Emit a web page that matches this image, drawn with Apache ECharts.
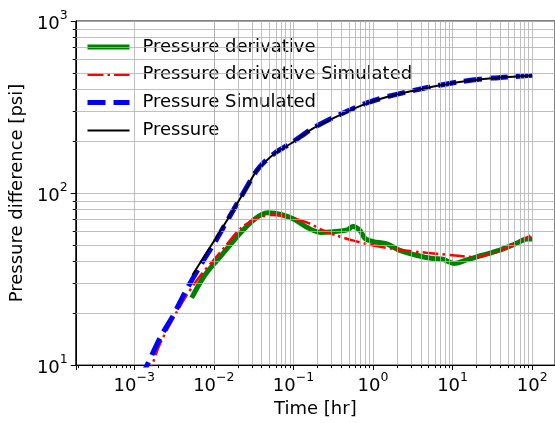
<!DOCTYPE html>
<html>
<head>
<meta charset="utf-8">
<script src="https://cdn.jsdelivr.net/npm/echarts@6/dist/echarts.min.js"></script>
<style>
  html, body { margin: 0; padding: 0; background: #fff; }
  #chart { width: 555px; height: 423px; }
</style>
</head>
<body>
<div id="chart"></div>
<script>
// measured pressure
const pTime = [0.00538, 0.0125, 0.0158, 0.0268, 0.0342, 0.0434, 0.0607, 0.0933, 0.181, 0.389, 0.837, 1.80, 4.68, 12.2, 31.6, 100]
const pValue = [33.4, 61.7, 73.5, 111, 134, 151, 172, 194, 239, 285, 332, 370, 408, 442, 465, 482]

// simulated pressure
const psTime = [0.0012, 0.00145, 0.00213, 0.00312, 0.00435, 0.00703, 0.0103, 0.0221, 0.0342, 0.0434, 0.0607, 0.0933, 0.181, 0.389, 0.837, 1.80, 4.68, 12.2, 31.6, 100]
const psValue = [8.4, 10.0, 14.5, 19.6, 26.5, 39, 51.8, 95.5, 134, 152, 173, 195, 240, 287, 334, 371, 409, 443, 466, 483]

// measured derivative
const dTime = [0.00527, 0.00773, 0.0125, 0.0201, 0.0324, 0.0475, 0.0697, 0.102, 0.150, 0.219, 0.321, 0.472, 0.560, 0.690, 0.798, 1.01, 1.49, 2.17, 3.51, 5.65, 7.53, 10.5, 14.7, 23.7, 38.3, 61.8, 86.1, 100]
const dValue = [24.6, 33.4, 43.5, 56.5, 70.4, 76.7, 75.1, 70.4, 63.0, 59.0, 59.6, 61.1, 63.9, 60.4, 54.3, 52.2, 50.7, 46.4, 43.5, 41.6, 41.2, 39.0, 40.7, 43.5, 46.4, 50.7, 54.1, 54.1]

// simulated derivative
const dsTime = [0.0014, 0.00168, 0.00203, 0.00297, 0.00435, 0.0064, 0.0103, 0.0137, 0.0221, 0.0357, 0.0523, 0.0766, 0.150, 0.241, 0.354, 0.570, 1.01, 2.17, 4.68, 10.0, 17.8, 31.6, 56.0, 95]
const dsValue = [8.2, 10, 12.8, 18.1, 24.6, 32.0, 41.6, 48.5, 62.8, 71.8, 74.5, 73.5, 67.3, 60.4, 56.5, 52.9, 49.6, 46.8, 45.0, 43.5, 42.5, 44.5, 49.6, 56.5]

const xMin = Math.pow(10, -3.735)
const xMax = Math.pow(10, 2.287)
const yMin = 10
const yMax = 1000

const font = 'DejaVu Sans'
const gridColor = '#b0b0b0'

const zip = (xs, ys) => xs.map((x, i) => [x, ys[i]])

const powLabel = (v) => {
  const l = Math.log10(v)
  const e = Math.round(l)
  if (Math.abs(l - e) > 1e-6) return ''
  return '{b|10}{s|' + (e < 0 ? '\u2212' + (-e) : e) + '}'
}
const labelRich = {
  b: { fontSize: 18, fontFamily: font, color: '#000', lineHeight: 24, verticalAlign: 'bottom' },
  s: { fontSize: 12.5, fontFamily: font, color: '#000', lineHeight: 24, verticalAlign: 'top' },
}

// minor grid positions (2..9 x 10^k) inside the axis ranges
const minorX = []
for (let e = -4; e <= 2; e++) {
  for (let k = 2; k <= 9; k++) {
    const v = k * Math.pow(10, e)
    if (v > xMin && v < xMax) minorX.push({ xAxis: v })
  }
}
const minorY = []
for (let e = 1; e <= 2; e++) {
  for (let k = 2; k <= 9; k++) {
    minorY.push({ yAxis: k * Math.pow(10, e) })
  }
}

const chart = echarts.init(document.getElementById('chart'), null, { renderer: 'canvas' })

chart.setOption({
  animation: false,
  backgroundColor: '#fff',
  grid: {
    left: 73,
    top: 21,
    right: -1,
    bottom: 51,
    show: true,
    borderColor: '#000',
    borderWidth: 1,
    backgroundColor: 'transparent',
  },
  legend: {
    orient: 'vertical',
    left: 80,
    top: 33,
    itemWidth: 42,
    itemHeight: 20,
    itemGap: 9.8,
    textStyle: { fontSize: 18, fontFamily: font, color: '#000', padding: [0, 0, 0, 8] },
    data: [
      { name: 'Pressure derivative', itemStyle: { opacity: 0 }, lineStyle: { width: 5 } },
      { name: 'Pressure derivative Simulated', itemStyle: { opacity: 0 }, lineStyle: { width: 2.5 } },
      { name: 'Pressure Simulated', itemStyle: { opacity: 0 }, lineStyle: { width: 5 } },
      { name: 'Pressure', itemStyle: { opacity: 0 }, lineStyle: { width: 2 } },
    ],
  },
  xAxis: {
    type: 'log',
    logBase: 10,
    min: xMin,
    max: xMax,
    name: 'Time [hr]',
    nameLocation: 'middle',
    nameGap: 30,
    nameTextStyle: { fontSize: 18, fontFamily: font, color: '#000' },
    axisLine: { show: true, lineStyle: { color: '#000', width: 1 } },
    axisTick: { show: true, length: 5, lineStyle: { color: '#000' } },
    minorTick: { show: true, splitNumber: 9, length: 3, lineStyle: { color: '#000' } },
    axisLabel: { formatter: powLabel, rich: labelRich, margin: 6, showMinLabel: false, showMaxLabel: false },
    splitLine: { show: true, lineStyle: { color: gridColor, width: 0.8 } },
  },
  yAxis: {
    type: 'log',
    logBase: 10,
    min: yMin,
    max: yMax,
    name: 'Pressure difference [psi]',
    nameLocation: 'middle',
    nameGap: 42,
    nameTextStyle: { fontSize: 18, fontFamily: font, color: '#000' },
    axisLine: { show: true, lineStyle: { color: '#000', width: 1 } },
    axisTick: { show: true, length: 5, lineStyle: { color: '#000' } },
    minorTick: { show: true, splitNumber: 9, length: 3, lineStyle: { color: '#000' } },
    axisLabel: { formatter: powLabel, rich: labelRich, margin: 8 },
    splitLine: { show: true, lineStyle: { color: gridColor, width: 0.8 } },
  },
  series: [
    {
      name: 'minor grid',
      type: 'line',
      data: [],
      silent: true,
      z: 1,
      markLine: {
        silent: true,
        symbol: 'none',
        label: { show: false },
        lineStyle: { color: gridColor, width: 0.8, type: 'solid' },
        data: minorX.concat(minorY),
      },
    },
    {
      name: 'Pressure derivative',
      type: 'line',
      data: zip(dTime, dValue),
      symbol: 'none',
      smooth: 0.3,
      z: 2,
      color: '#008000',
      lineStyle: { color: '#008000', width: 5 },
    },
    {
      name: 'Pressure derivative Simulated',
      type: 'line',
      data: zip(dsTime, dsValue),
      symbol: 'none',
      smooth: 0.3,
      z: 3,
      color: '#ff0000',
      lineStyle: { color: '#ff0000', width: 2.5, type: [16, 4, 2.5, 4] },
    },
    {
      name: 'Pressure Simulated',
      type: 'line',
      data: zip(psTime, psValue),
      symbol: 'none',
      smooth: 0.3,
      z: 4,
      color: '#0000ff',
      lineStyle: { color: '#0000ff', width: 5, type: [18, 8] },
    },
    {
      name: 'Pressure',
      type: 'line',
      data: zip(pTime, pValue),
      symbol: 'none',
      smooth: 0.3,
      z: 5,
      color: '#000',
      lineStyle: { color: '#000', width: 2 },
    },
  ],
})
</script>
</body>
</html>
